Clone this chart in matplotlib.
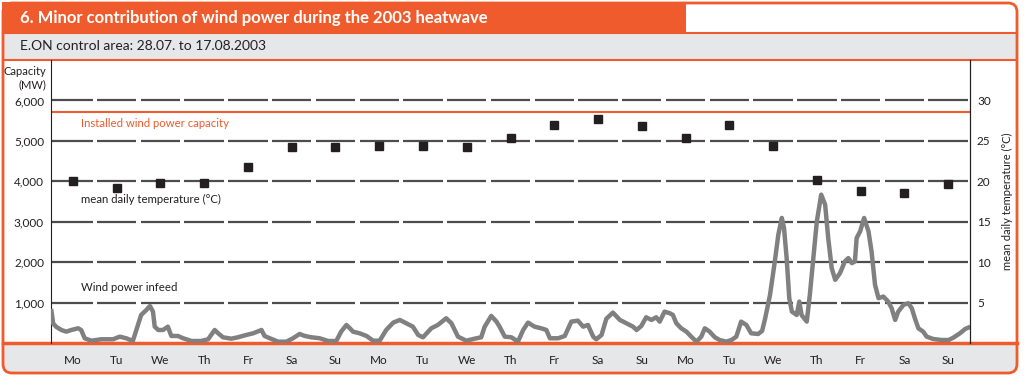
import matplotlib
matplotlib.use("Agg")
import matplotlib.pyplot as plt
from matplotlib.patches import Rectangle, FancyBboxPatch
import numpy as np

plt.rcParams['font.family'] = ['Lato', 'DejaVu Sans']

# data
day_labels = ["Mo", "Tu", "We", "Th", "Fr", "Sa", "Su",
              "Mo", "Tu", "We", "Th", "Fr", "Sa", "Su",
              "Mo", "Tu", "We", "Th", "Fr", "Sa", "Su"]
temperature = [20.0, 19.2, 19.8, 19.8, 21.8, 24.2, 24.3, 24.4, 24.4, 24.2, 25.4,
               26.9, 27.7, 26.8, 25.3, 27.0, 24.4, 20.2, 18.8, 18.6, 19.7]
installed_capacity = 5720

# wind power infeed (time in days from 28.07. 0:00, MW)
wind_t = [0.01, 0.05, 0.12, 0.24, 0.35, 0.46, 0.62, 0.69, 0.77, 0.92, 1.15, 1.42, 1.57, 1.72,
          1.87, 1.95, 2.06, 2.18, 2.26, 2.33, 2.37, 2.45, 2.56, 2.67, 2.75, 2.90, 3.02, 3.21,
          3.43, 3.59, 3.74, 3.82, 3.93, 4.12, 4.27, 4.46, 4.62, 4.81, 4.88, 5.00, 5.19, 5.38,
          5.53, 5.68, 5.80, 5.95, 6.14, 6.33, 6.52, 6.63, 6.75, 6.83, 6.90, 7.05, 7.21, 7.36,
          7.51, 7.66, 7.82, 7.97, 8.12, 8.27, 8.39, 8.50, 8.69, 8.84, 9.03, 9.15, 9.30, 9.49,
          9.68, 9.83, 9.91, 10.06, 10.18, 10.25, 10.37, 10.52, 10.67, 10.79, 10.90, 11.05,
          11.20, 11.32, 11.40, 11.59, 11.74, 11.89, 12.04, 12.16, 12.27, 12.39, 12.46, 12.58,
          12.69, 12.84, 13.00, 13.15, 13.30, 13.38, 13.49, 13.60, 13.72, 13.83, 13.91, 14.02,
          14.14, 14.21, 14.29, 14.40, 14.52, 14.63, 14.75, 14.86, 14.94, 15.05, 15.17, 15.28,
          15.43, 15.55, 15.66, 15.77, 15.89, 16.00, 16.16, 16.25, 16.32, 16.43, 16.54, 16.62,
          16.70, 16.75, 16.81, 16.87, 16.93, 17.04, 17.10, 17.15, 17.27, 17.34, 17.42, 17.50,
          17.60, 17.69, 17.76, 17.84, 17.92, 18.03, 18.14, 18.22, 18.30, 18.37, 18.41, 18.49,
          18.58, 18.68, 18.75, 18.83, 18.91, 19.02, 19.13, 19.21, 19.29, 19.36, 19.48, 19.59,
          19.67, 19.74, 19.82, 19.93, 20.01, 20.16, 20.35, 20.51, 20.62, 20.77, 20.89, 20.96]
wind_mw = [790, 480, 400, 320, 280, 320, 365, 320, 117, 57, 92, 92, 157, 117,
           50, 322, 694, 818, 917, 776, 404, 322, 322, 404, 174, 174, 117, 50,
           50, 92, 322, 240, 141, 107, 141, 198, 240, 322, 174, 117, 33, 33,
           117, 223, 174, 141, 117, 50, 50, 281, 446, 364, 281, 240, 174, 57,
           57, 322, 504, 570, 488, 404, 198, 141, 364, 446, 612, 488, 157, 57,
           107, 141, 404, 670, 529, 404, 157, 141, 33, 322, 504, 404,
           364, 322, 117, 117, 174, 529, 553, 404, 446, 157, 92, 198,
           600, 752, 570, 488, 404, 322, 422, 636, 570, 636, 529, 776,
           736, 694, 488, 364, 281, 157, 33, 157, 364, 281, 141, 74,
           33, 74, 157, 529, 446, 240, 223, 300, 612, 1190, 2017, 2679,
           3093, 2845, 2101, 1108, 776, 694, 1024, 694, 529, 1190, 2100, 3008,
           3670, 3422, 2597, 1853, 1563, 1729, 2017, 2100, 1976, 2017, 2597, 2762,
           3093, 2762, 2266, 1438, 1108, 1149, 1024, 860, 570, 776, 942, 984,
           860, 612, 364, 281, 157, 99, 74, 74, 132, 240, 347, 380]

orange = '#EF5B2C'
band = '#E6E7E8'
dark = '#231F20'

fig = plt.figure(figsize=(10.24, 3.78), dpi=100)

# frame drawn in pixel coordinates
bg = fig.add_axes([0, 0, 1, 1], zorder=0)
bg.set_xlim(0, 1024)
bg.set_ylim(378, 0)
bg.axis('off')
bg.add_patch(Rectangle((4, 33), 1012, 27, color=band, lw=0))
bg.add_patch(Rectangle((4, 343), 1012, 29, color=band, lw=0))
bg.add_patch(FancyBboxPatch((3, 3), 1014, 370, boxstyle="round,pad=0,rounding_size=9",
                            fill=False, edgecolor=orange, lw=2))
bg.add_patch(Rectangle((2, 2), 684, 31, color=orange, lw=0))
bg.plot([3, 1017], [33, 33], color=orange, lw=1.5)
bg.plot([3, 1017], [60, 60], color=orange, lw=1.5)
bg.plot([3, 1017], [343, 343], color=orange, lw=2.5)
bg.text(20, 18, "6. Minor contribution of wind power during the 2003 heatwave",
        color='white', fontsize=12, fontweight='bold', va='center', ha='left')
bg.text(20, 46.5, "E.ON control area: 28.07. to 17.08.2003",
        color=dark, fontsize=10, va='center', ha='left')
bg.text(46, 78, "Capacity\n(MW)", color=dark, fontsize=8, va='center', ha='right',
        multialignment='right', linespacing=1.3)

ax = fig.add_axes([51 / 1024, 35 / 378, 919 / 1024, 283 / 378], zorder=1)
ax.set_facecolor('none')
ax.set_xlim(0, 21)
ax.set_ylim(0, 7000)
for s in ['top', 'bottom']:
    ax.spines[s].set_visible(False)
ax.spines['left'].set_color(dark)
ax.spines['right'].set_color(dark)

# dashed grid: one dash per day
days = np.arange(21)
for g in range(1000, 7000, 1000):
    ax.hlines([g] * 21, np.where(days == 0, 0, days + 0.05), days + 0.95,
              color='#4D4D4D', lw=1.6, zorder=1)

ax.axhline(installed_capacity, color=orange, lw=1.5, zorder=2)
ax.plot(wind_t, wind_mw, color='#808080', lw=3.2, zorder=3, solid_joinstyle='round')

ax.set_yticks(range(1000, 7000, 1000))
ax.set_yticklabels([f"{v:,}" for v in range(1000, 7000, 1000)])
ax.set_xticks(days + 0.5)
ax.set_xticklabels(day_labels)
ax.tick_params(axis='y', length=0, pad=5, labelsize=8.5, labelcolor=dark)
ax.tick_params(axis='x', length=0, pad=9, labelsize=8.5, labelcolor=dark)

ax.text(0.69, 5430, "Installed wind power capacity", color=orange, fontsize=8.2, va='center')
ax.text(0.69, 3550, "mean daily temperature (°C)", color=dark, fontsize=8.2, va='center')
ax.text(0.69, 1370, "Wind power infeed", color=dark, fontsize=8.2, va='center')

ax2 = ax.twinx()
ax2.set_ylim(0, 35)
ax2.set_yticks(range(5, 35, 5))
ax2.tick_params(axis='y', length=0, pad=5, labelsize=8.5, labelcolor=dark)
for s in ['top', 'bottom', 'left']:
    ax2.spines[s].set_visible(False)
ax2.spines['right'].set_color(dark)
ax2.plot(days + 0.5, temperature, 's', color=dark, ms=5.5, zorder=4)
ax2.set_ylabel("mean daily temperature (°C)", color=dark, fontsize=8, labelpad=8)

fig.savefig("out.png", dpi=100)
